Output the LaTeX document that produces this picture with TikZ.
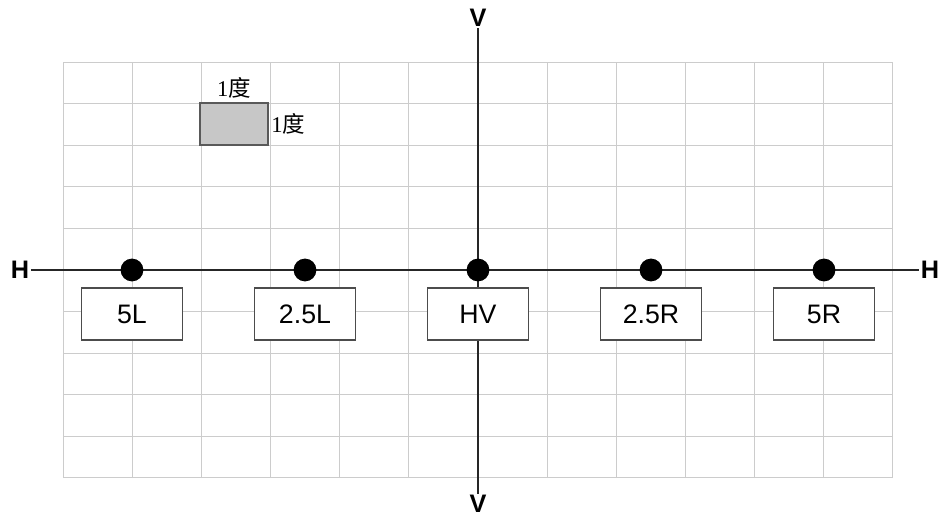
\documentclass[tikz,border=0pt]{standalone}
\usepackage{fontspec}
\setmainfont{Liberation Sans}
\newfontfamily\cjk{Noto Sans CJK SC}
\newfontfamily\tnr{Liberation Serif}
\usetikzlibrary{positioning}

\tikzset{
    posbox/.style={rectangle, draw=black!70, line width=1.3pt, minimum width=2.525cm, minimum height=1.3cm, fill=white, font=\fontsize{19}{22}\selectfont},
    dot/.style={circle, fill=black, inner sep=0pt, minimum size=0.57cm},
    axlabel/.style={font=\bfseries\fontsize{18}{20}\selectfont, inner sep=1pt},
    deg/.style={font=\fontsize{16}{18}\selectfont, inner sep=1pt}
}

\begin{document}
\begin{tikzpicture}[x=0.025cm, y=0.025cm]
    \def\a{173}
    \useasboundingbox (-478,-249) rectangle (460,270);
    % background grid
    \draw[black!20, line width=0.7pt, xstep=1.725cm, ystep=1.0375cm] (-414.5,-208) grid (414.5,208);

    % scale cell
    \node(sq) [rectangle, draw=black!65, line width=1.1pt, fill=black!22, minimum width=1.7cm, minimum height=1.05cm] at (-244,146) {};
    \node(dw) [deg, above=0.05cm of sq] {{\tnr 1}{\cjk 度}};
    \node(dh) [deg, right=0.02cm of sq] {{\tnr 1}{\cjk 度}};

    % axes
    \node(hl) [axlabel] at (-458,0) {H};
    \node(hr) [axlabel] at (452,0) {H};
    \node(vt) [axlabel] at (0,252) {V};
    \node(vb) [axlabel] at (0,-234) {V};
    \draw[line width=2.1pt, black!85] (hl) -- (hr);
    \draw[line width=2.1pt, black!85] (vt) -- (vb);

    % test points
    \node(p1) [dot] at (-2*\a,0) {};
    \node(p2) [dot] at (-\a,0) {};
    \node(p3) [dot] at (0,0) {};
    \node(p4) [dot] at (\a,0) {};
    \node(p5) [dot] at (2*\a,0) {};

    \node(b1) [posbox] at (-2*\a,-44) {5L};
    \node(b2) [posbox] at (-\a,-44) {2.5L};
    \node(b3) [posbox] at (0,-44) {HV};
    \node(b4) [posbox] at (\a,-44) {2.5R};
    \node(b5) [posbox] at (2*\a,-44) {5R};

\end{tikzpicture}
\end{document}
